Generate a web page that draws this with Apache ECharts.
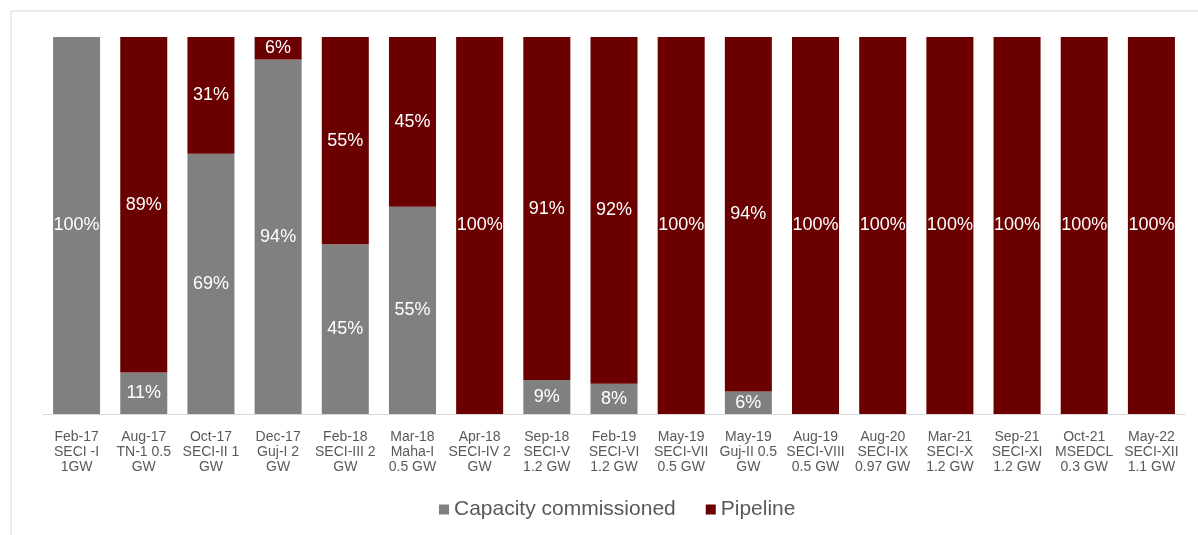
<!DOCTYPE html>
<html>
<head>
<meta charset="utf-8">
<script src="https://cdn.jsdelivr.net/npm/echarts@6/dist/echarts.min.js"></script>
<style>
  html, body { margin: 0; padding: 0; background: #fff; }
  #chart { width: 1198px; height: 535px; }
</style>
</head>
<body>
<div id="chart"></div>
<script>
const categories = [
  'Feb-17\nSECI -I\n1GW', 'Aug-17\nTN-1 0.5\nGW', 'Oct-17\nSECI-II 1\nGW', 'Dec-17\nGuj-I 2\nGW',
  'Feb-18\nSECI-III 2\nGW', 'Mar-18\nMaha-I\n0.5 GW', 'Apr-18\nSECI-IV 2\nGW', 'Sep-18\nSECI-V\n1.2 GW',
  'Feb-19\nSECI-VI\n1.2 GW', 'May-19\nSECI-VII\n0.5 GW', 'May-19\nGuj-II 0.5\nGW', 'Aug-19\nSECI-VIII\n0.5 GW',
  'Aug-20\nSECI-IX\n0.97 GW', 'Mar-21\nSECI-X\n1.2 GW', 'Sep-21\nSECI-XI\n1.2 GW', 'Oct-21\nMSEDCL\n0.3 GW',
  'May-22\nSECI-XII\n1.1 GW'
];
const commissioned = [100, 11, 69, 94, 45, 55, 0, 9, 8, 0, 6, 0, 0, 0, 0, 0, 0];
const pipeline = [0, 89, 31, 6, 55, 45, 100, 91, 92, 100, 94, 100, 100, 100, 100, 100, 100];

const barLabel = {
  show: true,
  position: 'inside',
  color: '#fff',
  fontSize: 18,
  fontFamily: 'Liberation Sans, Arial, sans-serif',
  formatter: p => (p.value > 0 ? p.value + '%' : '')
};

const chart = echarts.init(document.getElementById('chart'));
chart.setOption({
  animation: false,
  graphic: [{
    type: 'rect',
    shape: { x: 11, y: 11, width: 1200, height: 540 },
    style: { fill: 'none', stroke: '#d9d9d9', lineWidth: 1 },
    z: -1
  }],
  grid: { left: 43, right: 13, top: 37, bottom: 121 },
  legend: {
    left: 434,
    bottom: 10,
    itemWidth: 10,
    itemHeight: 10,
    itemGap: 30,
    icon: 'rect',
    textStyle: { color: '#595959', fontSize: 21, fontFamily: 'Liberation Sans, Arial, sans-serif' },
    data: ['Capacity commissioned', 'Pipeline']
  },
  xAxis: {
    type: 'category',
    data: categories,
    axisLine: { lineStyle: { color: '#d9d9d9', width: 1 } },
    axisTick: { show: false },
    axisLabel: {
      color: '#595959',
      fontSize: 14,
      lineHeight: 15,
      margin: 16,
      interval: 0,
      fontFamily: 'Liberation Sans, Arial, sans-serif'
    }
  },
  yAxis: {
    type: 'value',
    min: 0,
    max: 100,
    show: false
  },
  series: [
    {
      name: 'Capacity commissioned',
      type: 'bar',
      stack: 'total',
      barCategoryGap: '30%',
      itemStyle: { color: '#808080' },
      label: barLabel,
      data: commissioned
    },
    {
      name: 'Pipeline',
      type: 'bar',
      stack: 'total',
      itemStyle: { color: '#6b0000' },
      label: barLabel,
      data: pipeline
    }
  ]
});
</script>
</body>
</html>
